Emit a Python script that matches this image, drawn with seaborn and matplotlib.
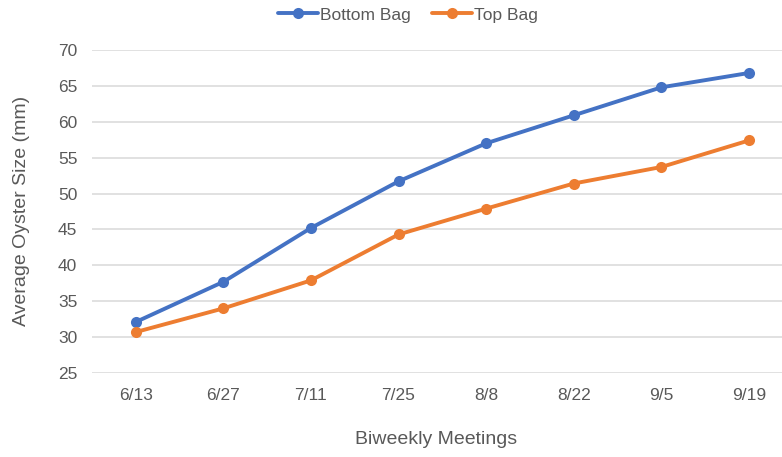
import matplotlib
matplotlib.use("Agg")
import matplotlib.pyplot as plt
import seaborn as sns
import pandas as pd

meetings = ["6/13", "6/27", "7/11", "7/25", "8/8", "8/22", "9/5", "9/19"]
bottom_bag = [32.1, 37.7, 45.2, 51.7, 57.0, 60.9, 64.8, 66.8]
top_bag = [30.7, 34.0, 37.9, 44.3, 47.9, 51.4, 53.7, 57.4]
y_ticks = [25, 30, 35, 40, 45, 50, 55, 60, 65, 70]

df = pd.concat([
    pd.DataFrame({"Meeting": meetings, "Size": bottom_bag, "Bag": "Bottom Bag"}),
    pd.DataFrame({"Meeting": meetings, "Size": top_bag, "Bag": "Top Bag"}),
])

sns.set_theme(style="white")
plt.rcParams["font.family"] = ["Liberation Sans", "DejaVu Sans"]

text_color = "#595959"
palette = {"Bottom Bag": "#4472C4", "Top Bag": "#ED7D31"}

fig = plt.figure(figsize=(7.82, 4.57), dpi=100)
ax = fig.add_axes([0.1175, 0.1838, 0.8963, 0.7068])

sns.lineplot(data=df, x="Meeting", y="Size", hue="Bag", palette=palette,
             marker="o", markersize=8, markeredgewidth=0, linewidth=2.8,
             sort=False, ax=ax, legend=True, zorder=3)

ax.set_xlim(-0.5, len(meetings) - 0.5)
ax.set_ylim(25, 70)
ax.set_yticks(y_ticks)
ax.yaxis.grid(True, color="#D9D9D9", linewidth=1.1)
ax.xaxis.grid(False)
for side in ["top", "right", "left", "bottom"]:
    ax.spines[side].set_visible(False)
ax.tick_params(axis="both", length=0, labelsize=12.5, labelcolor=text_color)
ax.tick_params(axis="y", pad=10.5)
ax.tick_params(axis="x", pad=11)

ax.set_xlabel("Biweekly Meetings", fontsize=14, color=text_color)
ax.set_ylabel("Average Oyster Size (mm)", fontsize=14, color=text_color)
ax.xaxis.set_label_coords(436 / 782, 1 - 440 / 457, transform=fig.transFigure)
ax.yaxis.set_label_coords(22 / 782, 1 - 211 / 457, transform=fig.transFigure)
ax.xaxis.label.set_va("center")
ax.yaxis.label.set_va("center")

handles, labels = ax.get_legend_handles_labels()
ax.get_legend().remove()
fig.legend(handles, labels, loc="center", bbox_to_anchor=(408 / 782, 1 - 15 / 457),
           ncol=2, frameon=False, fontsize=12.5, labelcolor=text_color,
           handlelength=2.3, handletextpad=0.15, columnspacing=1.2)

fig.savefig("out.png", dpi=100)
